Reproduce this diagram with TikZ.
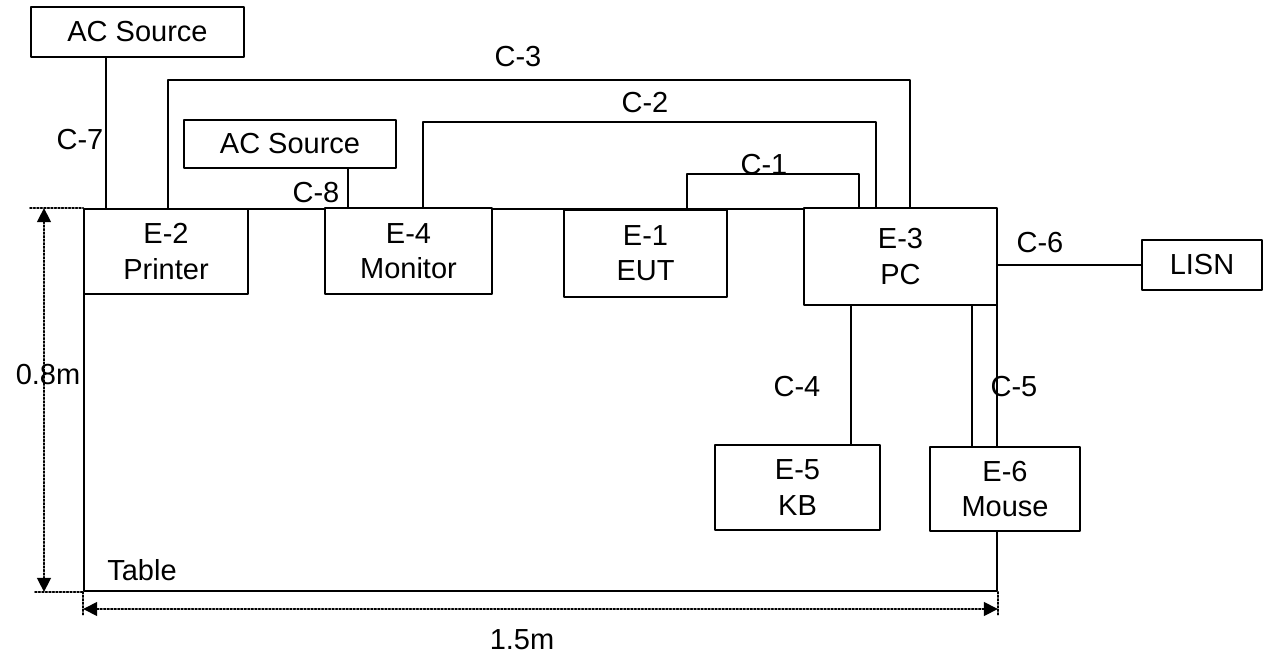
\documentclass[tikz,border=0pt]{standalone}
\usepackage{fontspec}
\setmainfont{Liberation Sans}
\usetikzlibrary{arrows.meta}
\newcommand{\lblsize}{\fontsize{16.5}{20}\selectfont}
\tikzset{eqbox/.style={draw,fill=white,line width=1pt,inner sep=0pt,align=center,font=\lblsize},
	cable/.style={line width=1pt},
	dimline/.style={line width=0.9pt,dash pattern=on 1pt off 1pt},
	lbl/.style={font=\lblsize,inner sep=0pt}}

\begin{document}
\begin{tikzpicture}[line cap=round,line join=round,>={Triangle[length=0.28cm,width=0.28cm]},x=0.02cm,y=-0.02cm]
		\useasboundingbox (0,0) rectangle (1266,655);
		% table
		\node [draw,line width=1pt,minimum width=18.26cm,minimum height=7.64cm,inner sep=0pt] (table) at (540.5,400) {};
		\node [lbl,anchor=west] (tablbl) at (107,570) {Table};
		% equipment
		\node [eqbox,minimum width=4.26cm,minimum height=1.0cm] (acA) at (137.5,32) {AC Source};
		\node [eqbox,minimum width=4.24cm,minimum height=0.96cm] (acB) at (290,144) {AC Source};
		\node [eqbox,minimum width=3.28cm,minimum height=1.7cm] (prn) at (166,251.5) {E-2\\Printer};
		\node [eqbox,minimum width=3.34cm,minimum height=1.72cm] (mon) at (408.5,251) {E-4\\Monitor};
		\node [eqbox,minimum width=3.26cm,minimum height=1.74cm] (eut) at (645.5,253.5) {E-1\\EUT};
		\node [eqbox,minimum width=3.86cm,minimum height=1.94cm] (pc) at (900.5,256.5) {E-3\\PC};
		\node [eqbox,minimum width=2.4cm,minimum height=1.0cm] (lisn) at (1202,265) {LISN};
		\node [eqbox,minimum width=3.3cm,minimum height=1.7cm] (kb) at (797.5,487.5) {E-5\\KB};
		\node [eqbox,minimum width=3.0cm,minimum height=1.68cm] (mouse) at (1005,489) {E-6\\Mouse};
		% cables
		\draw [cable] (acA.south -| 106,0) -- (prn.north -| 106,0);
		\draw [cable] (prn.north -| 168,0) |- (910,80) -- (pc.north -| 910,0);
		\draw [cable] (acB.south -| 348,0) -- (mon.north -| 348,0);
		\draw [cable] (mon.north -| 423,0) |- (876,122) -- (pc.north -| 876,0);
		\draw [cable] (eut.north -| 687,0) |- (859,174) -- (pc.north -| 859,0);
		\draw [cable] (pc.east |- lisn.west) -- (lisn.west);
		\draw [cable] (pc.south -| 851,0) -- (kb.north -| 851,0);
		\draw [cable] (pc.south -| 972,0) -- (mouse.north -| 972,0);
		\node [lbl] (c7) at (80,140) {C-7};
		\node [lbl] (c3) at (518,57) {C-3};
		\node [lbl] (c2) at (645,103) {C-2};
		\node [lbl] (c1) at (764,165) {C-1};
		\node [lbl] (c8) at (316,193) {C-8};
		\node [lbl] (c6) at (1040,243) {C-6};
		\node [lbl] (c4) at (797,387) {C-4};
		\node [lbl] (c5) at (1014,387) {C-5};
		% dimensions
		\coordinate (vtop) at (table.north west -| 44,0);
		\coordinate (vbot) at (table.south west -| 44,0);
		\coordinate (hlft) at (table.south west |- 0,609);
		\coordinate (hrgt) at (table.south east |- 0,609);
		\draw [dimline] (table.north west -| 30,0) -- (table.north west);
		\draw [dimline] (table.south west -| 35,0) -- (table.south west);
		\draw [dimline] (table.south west) -- ([yshift=-0.12cm]hlft);
		\draw [dimline] (table.south east) -- ([yshift=-0.12cm]hrgt);
		\draw [dimline,<->] (vtop) -- (vbot);
		\draw [dimline,<->] (hlft) -- (hrgt);
		\node [lbl] (vdim) at (48,375) {0.8m};
		\node [lbl] (hdim) at (522,640) {1.5m};
	\end{tikzpicture}
\end{document}
